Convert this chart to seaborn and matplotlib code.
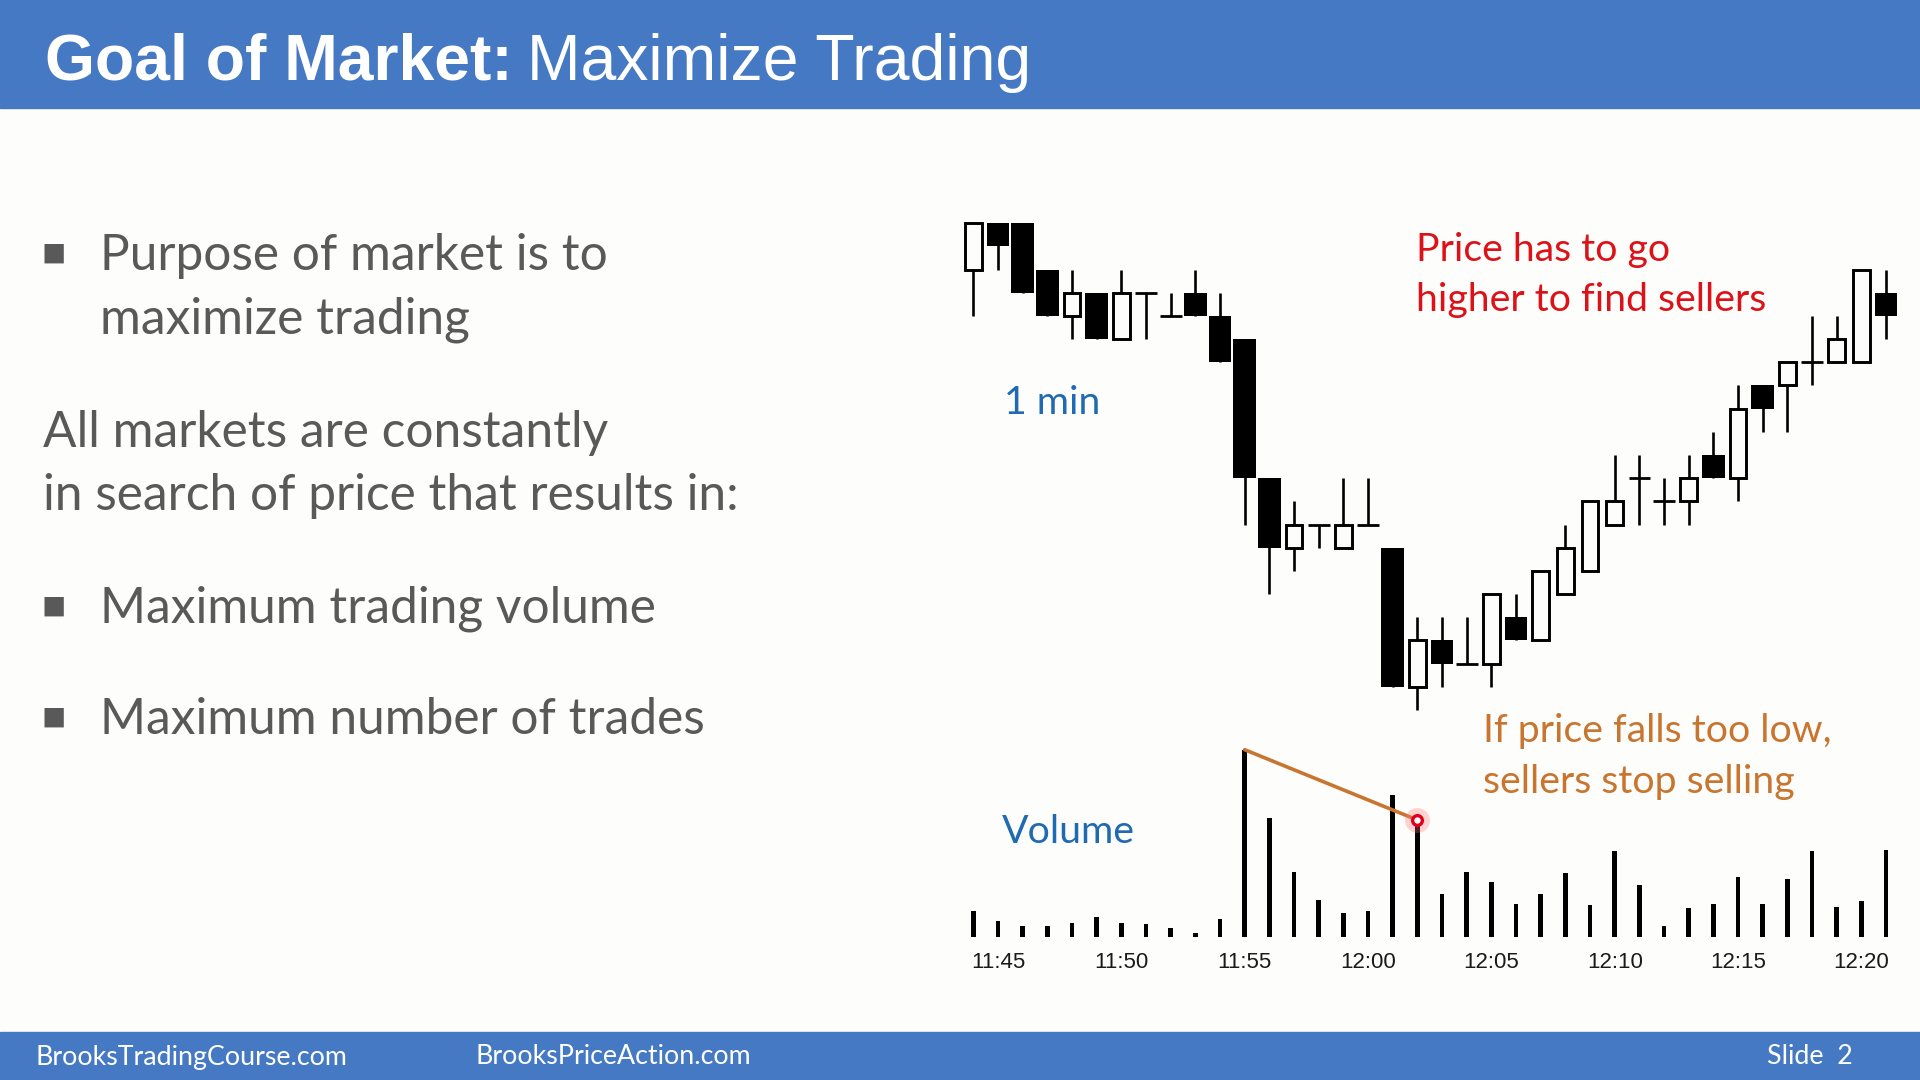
import matplotlib
matplotlib.use("Agg")
import matplotlib.pyplot as plt
import seaborn as sns
import numpy as np
import pandas as pd
from matplotlib.patches import Rectangle

# ---------------- data ----------------
times = ["11:44", "11:45", "11:46", "11:47", "11:48", "11:49", "11:50", "11:51",
         "11:52", "11:53", "11:54", "11:55", "11:56", "11:57", "11:58", "11:59",
         "12:00", "12:01", "12:02", "12:03", "12:04", "12:05", "12:06", "12:07",
         "12:08", "12:09", "12:10", "12:11", "12:12", "12:13", "12:14", "12:15",
         "12:16", "12:17", "12:18", "12:19", "12:20", "12:21"]

opens = [2087.00, 2087.50, 2087.50, 2087.00, 2086.50, 2086.75, 2086.25, 2086.75,
         2086.50, 2086.75, 2086.50, 2086.25, 2084.75, 2084.00, 2084.25, 2084.00,
         2084.25, 2084.00, 2082.50, 2083.00, 2082.75, 2082.75, 2083.25, 2083.00,
         2083.50, 2083.75, 2084.25, 2084.75, 2084.50, 2084.50, 2085.00, 2084.75,
         2085.75, 2085.75, 2086.00, 2086.00, 2086.00, 2086.75]
highs = [2087.50, 2087.50, 2087.50, 2087.00, 2087.00, 2086.75, 2087.00, 2086.75,
         2086.75, 2087.00, 2086.75, 2086.25, 2084.75, 2084.50, 2084.25, 2084.75,
         2084.75, 2084.00, 2083.25, 2083.25, 2083.25, 2083.50, 2083.50, 2083.75,
         2084.25, 2084.50, 2085.00, 2085.00, 2084.75, 2085.00, 2085.25, 2085.75,
         2085.75, 2086.00, 2086.50, 2086.50, 2087.00, 2087.00]
lows = [2086.50, 2087.00, 2086.75, 2086.50, 2086.25, 2086.25, 2086.25, 2086.25,
        2086.50, 2086.50, 2086.00, 2084.25, 2083.50, 2083.75, 2084.00, 2084.00,
        2084.25, 2082.50, 2082.25, 2082.50, 2082.75, 2082.50, 2083.00, 2083.00,
        2083.50, 2083.75, 2084.25, 2084.25, 2084.25, 2084.25, 2084.75, 2084.50,
        2085.25, 2085.25, 2085.75, 2086.00, 2086.00, 2086.25]
closes = [2087.50, 2087.25, 2086.75, 2086.50, 2086.75, 2086.25, 2086.75, 2086.75,
          2086.50, 2086.50, 2086.00, 2084.75, 2084.00, 2084.25, 2084.25, 2084.25,
          2084.25, 2082.50, 2083.00, 2082.75, 2082.75, 2083.50, 2083.00, 2083.75,
          2084.00, 2084.50, 2084.50, 2084.75, 2084.50, 2084.75, 2084.75, 2085.50,
          2085.50, 2086.00, 2086.00, 2086.25, 2087.00, 2086.50]
volume = [2570, 1570, 1070, 1070, 1400, 2000, 1400, 1270, 930, 400, 1830,
          18730, 11870, 6530, 3730, 2430, 2570, 14200, 11500, 4330, 6530,
          5500, 3300, 4330, 6400, 3170, 8570, 5200, 1070, 2870, 3300, 5970,
          3300, 5800, 8570, 3000, 3600, 8730]
tick_labels = ["11:45", "11:50", "11:55", "12:00", "12:05", "12:10", "12:15", "12:20"]

title_bold = "Goal of Market:"
title_rest = "Maximize Trading"
bullet_1 = ["Purpose of market is to", "maximize trading"]
para = ["All markets are constantly", "in search of price that results in:"]
bullet_2 = "Maximum trading volume"
bullet_3 = "Maximum number of trades"
note_red = ["Price has to go", "higher to find sellers"]
note_orange = ["If price falls too low,", "sellers stop selling"]
footer = ["BrooksTradingCourse.com", "BrooksPriceAction.com", "Slide  2"]

# ---------------- style ----------------
sns.set_theme(style="white")
plt.rcParams["font.family"] = ["Lato", "DejaVu Sans"]

BG = "#FDFDFB"
BLUE_BAR = "#4679C4"
GRAY = "#595959"
RED = "#DD1218"
ORANGE = "#C8752F"
TXT_BLUE = "#1F6AB0"

W, H = 1920, 1080
fig = plt.figure(figsize=(19.2, 10.8), dpi=100, facecolor=BG)


def fx(x):
    return x / W


def fy(y):
    return 1 - y / H


# header / footer bands
fig.patches.append(Rectangle((0, fy(108)), 1, 108 / H, transform=fig.transFigure,
                             color=BLUE_BAR, zorder=0))
fig.patches.append(Rectangle((0, 0), 1, (H - 1032) / H, transform=fig.transFigure,
                             color=BLUE_BAR, zorder=0))

# title
TITLE = 46.3
t1 = fig.text(fx(45), fy(80), title_bold, color="white", fontsize=TITLE,
              fontweight="bold", family=["Liberation Sans", "DejaVu Sans"], va="baseline")
fig.canvas.draw()
r = fig.canvas.get_renderer()
bb = t1.get_window_extent(renderer=r)
fig.text(bb.x1 / W + 14 / W, fy(80), title_rest, color="white", fontsize=TITLE,
         family=["Liberation Sans", "DejaVu Sans"], va="baseline")

# left text
BODY = 35.7
DY = 4
for txt, y in zip(bullet_1, [252, 316]):
    fig.text(fx(100), fy(y + DY), txt, color=GRAY, fontsize=BODY, va="center")
for txt, y in zip(para, [429, 492]):
    fig.text(fx(43), fy(y + DY), txt, color=GRAY, fontsize=BODY, va="center")
fig.text(fx(100), fy(605 + DY), bullet_2, color=GRAY, fontsize=BODY, va="center")
fig.text(fx(100), fy(716 + DY), bullet_3, color=GRAY, fontsize=BODY, va="center")
for y in [252, 605, 716]:
    fig.text(fx(54), fy(y + DY - 3), "\u25aa", color=GRAY, fontsize=28, va="center",
             ha="center", family=["DejaVu Sans"])

# annotations
NOTE = 28.3
for txt, y in zip(note_red, [246, 296]):
    fig.text(fx(1416), fy(y + DY), txt, color=RED, fontsize=NOTE, va="center")
for txt, y in zip(note_orange, [727, 778]):
    fig.text(fx(1483), fy(y + DY), txt, color=ORANGE, fontsize=NOTE, va="center")
fig.text(fx(1004), fy(399 + DY), "1 min", color=TXT_BLUE, fontsize=NOTE, va="center")
fig.text(fx(1002), fy(828 + DY), "Volume", color=TXT_BLUE, fontsize=NOTE, va="center")

# footer
FOOT = 19.3
fig.text(fx(35), fy(1057), footer[0], color="white", fontsize=FOOT, va="center")
fig.text(fx(475), fy(1057), footer[1], color="white", fontsize=FOOT, va="center")
fig.text(fx(1767), fy(1057), footer[2], color="white", fontsize=FOOT, va="center")

# ---------------- candle chart ----------------
n = len(times)
x = np.arange(n)
o = np.array(opens)
h = np.array(highs)
l = np.array(lows)
c = np.array(closes)

XL, XR = 954.8, 1904.6
CT, CB = 200, 740          # candle panel px
VT, VB = 740, 937          # volume panel px
lvl0_px = 223.3            # pixel of the top price
px_per_pt = 92.68

ax = fig.add_axes([fx(XL), fy(CB), (XR - XL) / W, (CB - CT) / H])
ax.set_facecolor("none")
top_price = h.max()
ax.set_ylim(top_price - (CB - lvl0_px) / px_per_pt, top_price + (lvl0_px - CT) / px_per_pt)
ax.set_xlim(-0.75, n - 0.25)

ax.vlines(x, l, h, color="black", lw=1.9, zorder=1)
bear = c < o
bull = c > o
doji = c == o
ax.bar(x[bear], (o - c)[bear], bottom=c[bear], width=0.92, color="black",
       linewidth=0, zorder=2)
ax.bar(x[bull], (c - o)[bull], bottom=o[bull], width=0.68, facecolor=BG,
       edgecolor="black", linewidth=2.1, zorder=2)
ax.hlines(c[doji], x[doji] - 0.44, x[doji] + 0.44, color="black", lw=2.0, zorder=2)
ax.set_xticks([])
ax.set_yticks([])
for s in ax.spines.values():
    s.set_visible(False)

# ---------------- volume ----------------
axv = fig.add_axes([fx(XL), fy(VB), (XR - XL) / W, (VB - VT) / H])
axv.set_facecolor("none")
df = pd.DataFrame({"bar": x, "volume": volume})
sns.barplot(data=df, x="bar", y="volume", ax=axv, color="black", width=0.19,
            native_scale=True, saturation=1, linewidth=0)
axv.set_xlim(-0.75, n - 0.25)
axv.set_ylim(0, (VB - VT) * 100)
axv.set_xticks([times.index(t) for t in tick_labels])
axv.set_xticklabels(tick_labels, family=["Liberation Sans", "DejaVu Sans"],
                    fontsize=16, color="#1a1a1a")
axv.tick_params(axis="x", length=0, pad=11)
axv.set_yticks([])
axv.set_xlabel("")
axv.set_ylabel("")
for s in axv.spines.values():
    s.set_visible(False)

# annotation line and pointer
i1, i2 = 11, 18
axv.plot([i1, i2], [volume[i1], 11700], color=ORANGE, lw=2.6, zorder=4,
         solid_capstyle="round", clip_on=False)
axv.scatter([i2], [11700], s=320, color="#FF7070", alpha=0.3, lw=0, zorder=5,
            clip_on=False)
axv.plot([i2], [11700], marker="o", ms=7, mfc="white", mec="#E0001A", mew=2.4,
         zorder=6, clip_on=False)

fig.savefig("out.png", dpi=100, facecolor=BG)
